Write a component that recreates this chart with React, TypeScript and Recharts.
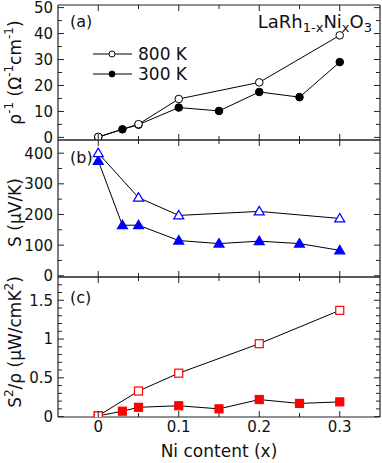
import React from "react";
import { LineChart, Line, XAxis, YAxis, Legend, Customized } from "recharts";

// Ni content (x) for each temperature series
const xs800 = [0, 0.05, 0.1, 0.2, 0.3];
const xs300 = [0, 0.03, 0.05, 0.1, 0.15, 0.2, 0.25, 0.3];

// (a) electrical conductivity, Ω^-1 cm^-1
const cond800 = [0.2, 5.1, 14.8, 21.2, 39.3];
const cond300 = [0.1, 3.1, 4.9, 11.5, 10.2, 17.5, 15.5, 29.0];

// (b) Seebeck coefficient, µV/K
const seebeck800 = [400, 255, 197, 210, 187];
const seebeck300 = [375, 165, 165, 115, 105, 113, 105, 83];

// (c) power factor, µW/cmK^2
const pf800 = [0.01, 0.33, 0.56, 0.94, 1.37];
const pf300 = [0.01, 0.07, 0.12, 0.14, 0.1, 0.22, 0.17, 0.19];

const xTicks = [0, 0.05, 0.1, 0.15, 0.2, 0.25, 0.3];
const condTicks = [0, 5, 10, 15, 20, 25, 30, 35, 40, 45, 50];
const seebeckTicks = [0, 50, 100, 150, 200, 250, 300, 350, 400];
const pfTicks = [0, 0.1, 0.2, 0.3, 0.4, 0.5, 0.6, 0.7, 0.8, 0.9, 1, 1.1, 1.2, 1.3, 1.4, 1.5, 1.6, 1.7];

const FONT = "'DejaVu Sans', 'Liberation Sans', Arial, sans-serif";
const AXIS = "#222";
const INK = "#111";
const W = 382;
const X_DOMAIN: [number, number] = [-0.05, 0.35];
const PAD = 10; // spare room above/below each panel so labels aren't clipped

const rows = (xs: number[], ys: number[]) => xs.map((x, i) => ({ x, y: ys[i] }));

const isStep = (v: number, step: number) => Math.abs(v / step - Math.round(v / step)) < 1e-6;

// inward tick marks with optional outside labels
const XTick = (props: any) => {
  const { x, y, payload, orient, showLabel } = props;
  const major = isStep(payload.value, 0.1);
  const len = major ? 6 : 4;
  const dir = orient === "top" ? 1 : -1;
  return (
    <g>
      <line x1={x} x2={x} y1={y} y2={y + dir * len} stroke={AXIS} strokeWidth={1} />
      {showLabel && major && (
        <text x={x} y={y + 14.5} textAnchor="middle" fontSize={15} fontFamily={FONT} fill={INK}>
          {String(Math.round(payload.value * 10) / 10)}
        </text>
      )}
    </g>
  );
};

const YTick = (props: any) => {
  const { x, y, payload, orient, step } = props;
  const major = isStep(payload.value, step);
  const len = major ? 6 : 4;
  const dir = orient === "right" ? -1 : 1;
  return (
    <g>
      <line x1={x} x2={x + dir * len} y1={y} y2={y} stroke={AXIS} strokeWidth={1} />
      {orient === "left" && major && (
        <text x={x - 5} y={y} dy="0.36em" textAnchor="end" fontSize={15} fontFamily={FONT} fill={INK}>
          {String(payload.value)}
        </text>
      )}
    </g>
  );
};

type Shape = "circle" | "triangle" | "square";

const Marker = ({ cx, cy, shape, color, filled }: any) => {
  const fill = filled ? color : "#fff";
  if (shape === "circle") {
    return <circle cx={cx} cy={cy} r={3.8} fill={fill} stroke={color} strokeWidth={1} />;
  }
  if (shape === "triangle") {
    return (
      <polygon
        points={`${cx},${cy - 5} ${cx - 5},${cy + 3.5} ${cx + 5},${cy + 3.5}`}
        fill={fill}
        stroke={color}
        strokeWidth={1.2}
      />
    );
  }
  return <rect x={cx - 4} y={cy - 4} width={8} height={8} fill={fill} stroke={color} strokeWidth={1.2} />;
};

const dotFor = (shape: Shape, color: string, filled: boolean) => (p: any) => (
  <Marker key={`${shape}-${filled}-${p.index}`} cx={p.cx} cy={p.cy} shape={shape} color={color} filled={filled} />
);

const YTitle = ({ cy, children }: any) => (
  <text
    x={15}
    y={cy}
    transform={`rotate(-90 15 ${cy})`}
    textAnchor="middle"
    dominantBaseline="central"
    fontSize={17}
    fontFamily={FONT}
    fill={INK}
  >
    {children}
  </text>
);

const LegendBox = ({ payload }: any) => (
  <div style={{ fontFamily: FONT, fontSize: 17, lineHeight: "20px", color: INK }}>
    {[...(payload || [])].reverse().map((entry: any) => (
      <div key={entry.value} style={{ display: "flex", alignItems: "center", height: 20 }}>
        <svg width={45} height={10}>
          <line x1={0} x2={39} y1={5} y2={5} stroke="#000" strokeWidth={1} />
          <circle cx={19} cy={5} r={3} fill={entry.value === "300 K" ? "#000" : "#fff"} stroke="#000" />
        </svg>
        <span style={{ lineHeight: "20px" }}>{entry.value}</span>
      </div>
    ))}
  </div>
);

interface PanelProps {
  plotTop: number;
  plotBottom: number;
  yDomain: [number, number];
  yTicks: number[];
  yStep: number;
  data300: { x: number; y: number }[];
  data800: { x: number; y: number }[];
  shape: Shape;
  color: string;
  bottomLabels?: boolean;
  title: React.ReactNode;
  titleShift: number;
  tag: string;
  tagY: number;
  extra?: React.ReactNode;
  legend?: boolean;
}

const Panel = ({
  plotTop,
  plotBottom,
  yDomain,
  yTicks,
  yStep,
  data300,
  data800,
  shape,
  color,
  bottomLabels,
  title,
  titleShift,
  tag,
  tagY,
  extra,
  legend,
}: PanelProps) => {
  const bottomH = bottomLabels ? 46 : 1;
  const bottomPad = bottomLabels ? 0 : PAD;
  const divTop = plotTop - 1 - PAD;
  const height = PAD + 1 + (plotBottom - plotTop) + bottomH + bottomPad;
  return (
    <div style={{ position: "absolute", left: 0, top: divTop }}>
      <LineChart width={W} height={height} margin={{ top: PAD, right: 1, bottom: bottomPad, left: 0 }}>
        <XAxis
          xAxisId="b"
          dataKey="x"
          type="number"
          domain={X_DOMAIN}
          ticks={xTicks}
          allowDataOverflow
          height={bottomH}
          tickLine={false}
          tickSize={0}
          tickMargin={0}
          axisLine={{ stroke: AXIS, strokeWidth: 1.2 }}
          tick={<XTick orient="bottom" showLabel={bottomLabels} />}
          interval={0}
          label={
            bottomLabels
              ? (p: any) => (
                  <text
                    x={p.viewBox.x + p.viewBox.width / 2}
                    y={height - 6}
                    textAnchor="middle"
                    fontSize={17}
                    fontFamily={FONT}
                    fill={INK}
                  >
                    Ni content (x)
                  </text>
                )
              : undefined
          }
        />
        <XAxis
          xAxisId="t"
          orientation="top"
          dataKey="x"
          type="number"
          domain={X_DOMAIN}
          ticks={xTicks}
          allowDataOverflow
          height={1}
          tickLine={false}
          tickSize={0}
          tickMargin={0}
          axisLine={{ stroke: AXIS, strokeWidth: 1.2 }}
          tick={<XTick orient="top" />}
          interval={0}
        />
        <YAxis
          yAxisId="l"
          type="number"
          domain={yDomain}
          ticks={yTicks}
          allowDataOverflow
          width={58}
          tickLine={false}
          tickSize={0}
          tickMargin={0}
          axisLine={{ stroke: AXIS, strokeWidth: 1.2 }}
          tick={<YTick orient="left" step={yStep} />}
          interval={0}
          label={(p: any) => <YTitle cy={p.viewBox.y + p.viewBox.height / 2 + titleShift}>{title}</YTitle>}
        />
        <YAxis
          yAxisId="r"
          orientation="right"
          type="number"
          domain={yDomain}
          ticks={yTicks}
          allowDataOverflow
          width={1}
          tickLine={false}
          tickSize={0}
          tickMargin={0}
          axisLine={{ stroke: AXIS, strokeWidth: 1.2 }}
          tick={<YTick orient="right" step={yStep} />}
          interval={0}
        />
        <Line
          xAxisId="b"
          yAxisId="l"
          data={data300}
          dataKey="y"
          name="300 K"
          stroke="#000"
          strokeWidth={1}
          dot={dotFor(shape, color, true)}
          activeDot={false}
          isAnimationActive={false}
        />
        <Line
          xAxisId="b"
          yAxisId="l"
          data={data800}
          dataKey="y"
          name="800 K"
          stroke="#000"
          strokeWidth={1}
          dot={dotFor(shape, color, false)}
          activeDot={false}
          isAnimationActive={false}
        />
        {legend && (
          <Legend
            layout="vertical"
            align="center"
            verticalAlign="middle"
            content={<LegendBox />}
            wrapperStyle={{ left: 93, top: 44 - divTop, width: 120 }}
          />
        )}
        <Customized
          component={() => (
            <g transform={`translate(0, ${-divTop})`}>
              <text x={70} y={tagY} fontSize={16} fontFamily={FONT} fill={INK}>
                {tag}
              </text>
              {extra}
            </g>
          )}
        />
      </LineChart>
    </div>
  );
};

export default function App() {
  return (
    <div style={{ position: "absolute", left: 0, top: 0, width: W, height: 463, background: "#fff", overflow: "hidden" }}>
      <Panel
        plotTop={5}
        plotBottom={140}
        yDomain={[-1, 51]}
        yTicks={condTicks}
        yStep={10}
        data300={rows(xs300, cond300)}
        data800={rows(xs800, cond800)}
        shape="circle"
        color="#000"
        legend
        tag="(a)"
        tagY={27}
        titleShift={0}
        title={
          <>
            ρ<tspan dy={-6} fontSize={12}>-1</tspan>
            <tspan dy={6}> (Ω</tspan>
            <tspan dy={-6} fontSize={12}>-1</tspan>
            <tspan dy={6}>cm</tspan>
            <tspan dy={-6} fontSize={12}>-1</tspan>
            <tspan dy={6}>)</tspan>
          </>
        }
        extra={
          <text x={372} y={28} textAnchor="end" fontSize={18} fontFamily={FONT} fill={INK}>
            LaRh
            <tspan dy={4} fontSize={13}>1-x</tspan>
            <tspan dy={-4}>Ni</tspan>
            <tspan dy={4} fontSize={13}>x</tspan>
            <tspan dy={-4}>O</tspan>
            <tspan dy={4} fontSize={13}>3</tspan>
          </text>
        }
      />
      <Panel
        plotTop={140}
        plotBottom={277}
        yDomain={[-4, 443]}
        yTicks={seebeckTicks}
        yStep={100}
        data300={rows(xs300, seebeck300)}
        data800={rows(xs800, seebeck800)}
        shape="triangle"
        color="#0000ff"
        tag="(b)"
        tagY={163}
        titleShift={4}
        title={<>S (μV/K)</>}
      />
      <Panel
        plotTop={277}
        plotBottom={417}
        yDomain={[-0.005, 1.8]}
        yTicks={pfTicks}
        yStep={0.5}
        data300={rows(xs300, pf300)}
        data800={rows(xs800, pf800)}
        shape="square"
        color="#ff0000"
        bottomLabels
        tag="(c)"
        tagY={303}
        titleShift={-5}
        title={
          <>
            S<tspan dy={-6} fontSize={12}>2</tspan>
            <tspan dy={6}>/ρ (μW/cmK</tspan>
            <tspan dy={-6} fontSize={12}>2</tspan>
            <tspan dy={6}>)</tspan>
          </>
        }
      />
    </div>
  );
}
